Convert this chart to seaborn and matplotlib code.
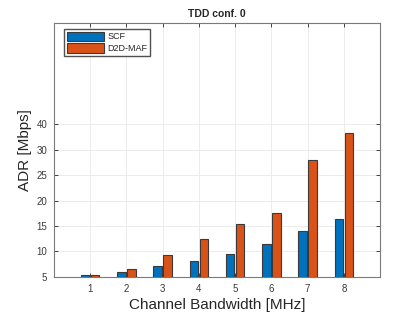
import numpy as np
import pandas as pd
import matplotlib
matplotlib.use("Agg")
import matplotlib.pyplot as plt
import seaborn as sns

# values
bandwidth = [1, 2, 3, 4, 5, 6, 7, 8]
adr_scf = [5.25, 5.85, 7.05, 8.0, 9.4, 11.4, 13.95, 16.3]
adr_d2d = [5.25, 6.45, 9.2, 12.35, 15.3, 17.6, 27.95, 36.5]
schemes = ["SCF", "D2D-MAF"]
ytick_vals = [5, 10, 15, 20, 25, 30, 40]

df = pd.DataFrame({
    "bw": bandwidth * 2,
    "adr": adr_scf + adr_d2d,
    "scheme": [schemes[0]] * len(bandwidth) + [schemes[1]] * len(bandwidth),
})

sns.set_theme(style="ticks")
plt.rcParams["font.family"] = ["Liberation Sans", "DejaVu Sans"]

fig = plt.figure(figsize=(4.2, 3.15), dpi=100)
ax = fig.add_axes([0.1286, 0.1216, 0.7764, 0.8054])


# y axis is compressed above 30 in the original
def fwd(y):
    y = np.asarray(y, dtype=float)
    return np.where(y <= 30, y, 30 + (y - 30) / 2)


def inv(p):
    p = np.asarray(p, dtype=float)
    return np.where(p <= 30, p, 30 + (p - 30) * 2)


ax.set_yscale("function", functions=(fwd, inv))

sns.barplot(data=df, x="bw", y="adr", hue="scheme", native_scale=True,
            palette=["#0072BD", "#D95319"], saturation=1, width=0.55, gap=0.15,
            edgecolor="#3a3a3a", linewidth=0.8, ax=ax, zorder=3)

ax.set_xlim(0, 9)
ax.set_ylim(5, 80)
ax.set_xticks(bandwidth)
ax.set_yticks(ytick_vals)
ax.set_yticklabels([str(v) for v in ytick_vals])
ax.yaxis.set_minor_locator(matplotlib.ticker.NullLocator())
ax.grid(True, color="#ececec", linewidth=0.7, zorder=0)
ax.set_axisbelow(True)

ax.tick_params(direction="in", length=3, width=0.6, labelsize=7, colors="#262626",
               labelcolor="#3a3a3a", top=True, right=True, pad=5)
for s in ax.spines.values():
    s.set_color("#7a7a7a")
    s.set_linewidth(0.8)

ax.set_xlabel("Channel Bandwidth [MHz]", fontsize=11, color="#262626", labelpad=3)
ax.set_ylabel("ADR [Mbps]", fontsize=11, color="#262626", labelpad=3)
ax.set_title("TDD conf. 0", fontsize=7.5, fontweight="bold", pad=4)

ax.legend(loc="upper left", bbox_to_anchor=(0.03, 0.977), fontsize=6.5,
          handlelength=4.2, handleheight=1.3, frameon=True, fancybox=False,
          edgecolor="#262626", borderpad=0.3, labelspacing=0.2, handletextpad=0.3,
          borderaxespad=0, title=None)

fig.savefig("out.png", dpi=100)
